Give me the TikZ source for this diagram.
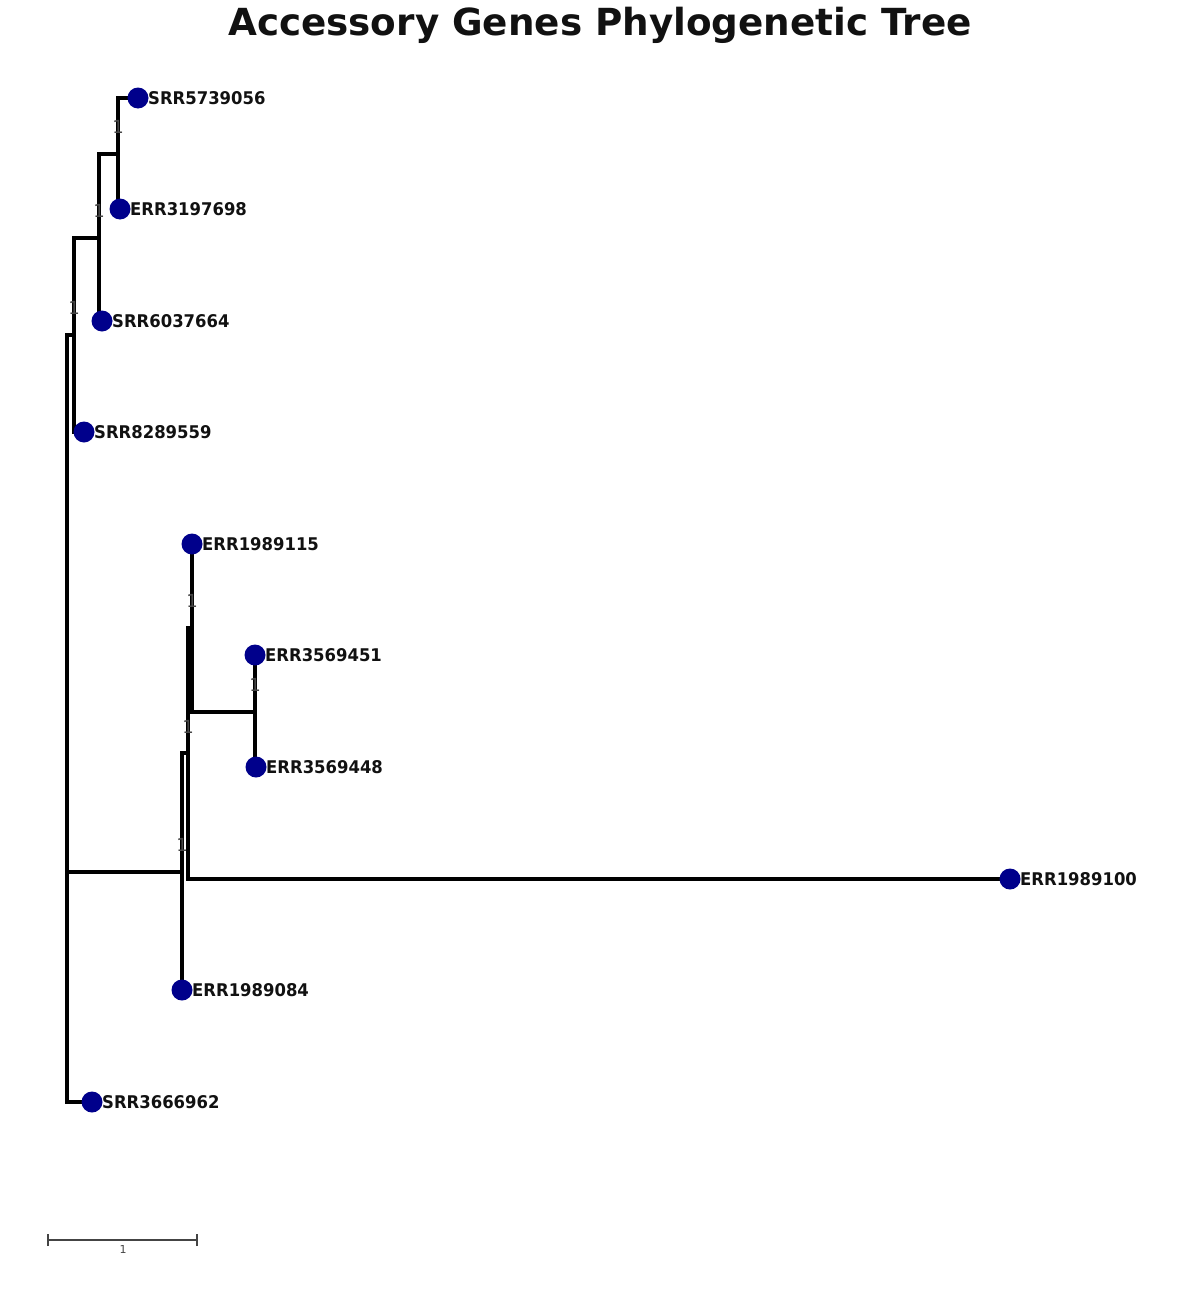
\documentclass[tikz,border=0pt]{standalone}
\usepackage{fontspec}
\setmainfont{DejaVu Sans}
\newfontface\lblfont{DejaVu Sans Bold}[FakeStretch=0.94]
\usetikzlibrary{backgrounds}
\definecolor{leafblue}{RGB}{0,0,139}
\definecolor{txt}{RGB}{17,17,17}
\definecolor{supp}{RGB}{70,70,70}
\definecolor{scalec}{RGB}{68,68,68}
\tikzset{
  leaf/.style={circle,fill=leafblue,inner sep=0pt,minimum size=21pt},
  leaflabel/.style={anchor=base west,text=txt,font=\lblfont\fontsize{17.5}{20}\selectfont,inner sep=0pt},
  branch/.style={line width=3.3pt,black},
  support/.style={text=supp,font=\fontsize{18}{20}\selectfont,inner sep=0pt},
}
\begin{document}
\begin{tikzpicture}[x=1pt,y=-1pt]
\useasboundingbox (0,0) rectangle (1200,1290);
\node[anchor=base,text=txt,font=\bfseries\fontsize{37.3}{44}\selectfont,inner sep=0pt] (title) at (600,36) {Accessory Genes Phylogenetic Tree};

% internal nodes
\coordinate (root) at (67,718);
\coordinate (T1) at (74,335);
\coordinate (T2) at (99,238);
\coordinate (T3) at (118,154);
\coordinate (M1) at (182,872);
\coordinate (M2) at (188,753);
\coordinate (M3) at (192,628);
\coordinate (M4) at (255,712);

% leaves
\node[leaf] (a) at (138,98) {};
\node[leaf] (b) at (120,209) {};
\node[leaf] (c) at (102,321) {};
\node[leaf] (d) at (84,432) {};
\node[leaf] (e) at (192,544) {};
\node[leaf] (f) at (255,655) {};
\node[leaf] (g) at (256,767) {};
\node[leaf] (h) at (1010,879) {};
\node[leaf] (i) at (182,990) {};
\node[leaf] (j) at (92,1102) {};

\node[leaflabel] (la) at (148,104.3) {SRR5739056};
\node[leaflabel] (lb) at (130,215.3) {ERR3197698};
\node[leaflabel] (lc) at (112,327.3) {SRR6037664};
\node[leaflabel] (ld) at (94,438.3) {SRR8289559};
\node[leaflabel] (le) at (202,550.3) {ERR1989115};
\node[leaflabel] (lf) at (265,661.3) {ERR3569451};
\node[leaflabel] (lg) at (266,773.3) {ERR3569448};
\node[leaflabel] (lh) at (1020,885.3) {ERR1989100};
\node[leaflabel] (li) at (192,996.3) {ERR1989084};
\node[leaflabel] (lj) at (102,1108.3) {SRR3666962};

\begin{scope}[on background layer]
\draw[branch] (root) |- (T1);
\draw[branch] (root) |- (M1);
\draw[branch] (root) |- (j.center);
\draw[branch] (T1) |- (T2);
\draw[branch] (T1) |- (d.center);
\draw[branch] (T2) |- (T3);
\draw[branch] (T2) |- (c.center);
\draw[branch] (T3) |- (a.center);
\draw[branch] (T3) |- (b.center);
\draw[branch] (M1) |- (M2);
\draw[branch] (M1) |- (i.center);
\draw[branch] (M2) |- (M3);
\draw[branch] (M2) |- (h.center);
\draw[branch] (M3) |- (e.center);
\draw[branch] (M3) |- (M4);
\draw[branch] (M4) |- (f.center);
\draw[branch] (M4) |- (g.center);
\end{scope}

% support values
\node[support] (s1) at (74,308) {1};
\node[support] (s2) at (99,211) {1};
\node[support] (s3) at (118,127) {1};
\node[support] (s4) at (182,845) {1};
\node[support] (s5) at (188,727) {1};
\node[support] (s6) at (192,601) {1};
\node[support] (s7) at (255,685) {1};

% scale bar
\coordinate (sb1) at (48,1240);
\coordinate (sb2) at (197,1240);
\draw[scalec,line width=1.5pt] (sb1) -- (sb2);
\draw[scalec,line width=1.2pt] ([yshift=-6pt]sb1) -- ([yshift=6pt]sb1);
\draw[scalec,line width=1.2pt] ([yshift=-6pt]sb2) -- ([yshift=6pt]sb2);
\node[text=scalec,font=\fontsize{11}{12}\selectfont,inner sep=0pt] (sbl) at (123,1249) {1};
\end{tikzpicture}
\end{document}
